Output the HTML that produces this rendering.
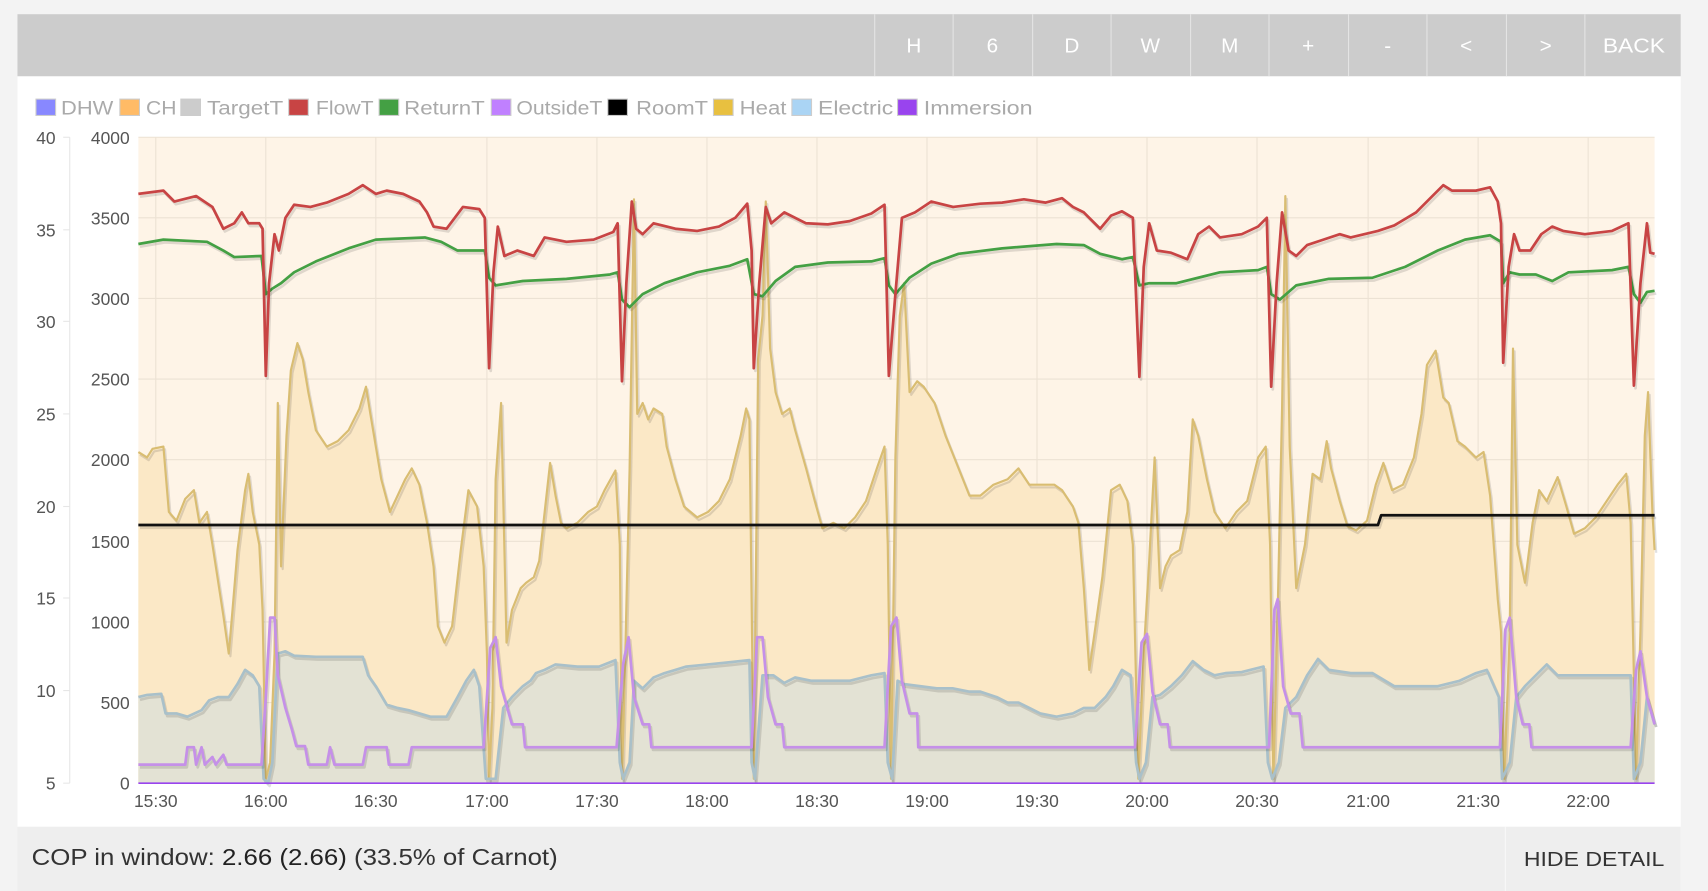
<!DOCTYPE html>
<html><head><meta charset="utf-8"><style>
html,body{margin:0;padding:0;background:#f3f3f3;width:1708px;height:891px;overflow:hidden}
svg{display:block}
text{font-family:"Liberation Sans",sans-serif}
</style></head><body>
<svg width="1708" height="891" viewBox="0 0 1568 818" xmlns="http://www.w3.org/2000/svg">
<rect x="0" y="0" width="1568" height="818" fill="#f3f3f3"/>
<rect x="16" y="13" width="1527" height="805" fill="#fff"/>
<rect x="16" y="13" width="1527" height="57" fill="#cccccc"/>
<g stroke="#e4e4e4" stroke-width="1">
<line x1="803" y1="13" x2="803" y2="70"/><line x1="875" y1="13" x2="875" y2="70"/><line x1="948" y1="13" x2="948" y2="70"/><line x1="1020" y1="13" x2="1020" y2="70"/><line x1="1093" y1="13" x2="1093" y2="70"/><line x1="1165" y1="13" x2="1165" y2="70"/><line x1="1238" y1="13" x2="1238" y2="70"/><line x1="1310" y1="13" x2="1310" y2="70"/><line x1="1383" y1="13" x2="1383" y2="70"/><line x1="1455" y1="13" x2="1455" y2="70"/>
</g>
<g fill="#fff" font-size="19" text-anchor="middle">
<text x="839" y="48">H</text><text x="911" y="48">6</text><text x="984" y="48">D</text><text x="1056" y="48">W</text><text x="1129" y="48">M</text><text x="1201" y="48">+</text><text x="1274" y="48">-</text><text x="1346" y="48">&lt;</text><text x="1419" y="48">&gt;</text><text x="1500" y="48" textLength="57" lengthAdjust="spacingAndGlyphs">BACK</text>
</g>
<!-- legend -->
<g font-size="18" fill="#aaa">
<rect x="33" y="91" width="18" height="15" fill="#8888ff" stroke="#ccc"/><text x="56" y="105" textLength="48" lengthAdjust="spacingAndGlyphs">DHW</text>
<rect x="110" y="91" width="18" height="15" fill="#ffbb66" stroke="#ccc"/><text x="134" y="105" textLength="28" lengthAdjust="spacingAndGlyphs">CH</text>
<rect x="166" y="91" width="18" height="15" fill="#cccccc" stroke="#ccc"/><text x="190" y="105" textLength="70" lengthAdjust="spacingAndGlyphs">TargetT</text>
<rect x="265" y="91" width="18" height="15" fill="#c84444" stroke="#ccc"/><text x="290" y="105" textLength="53" lengthAdjust="spacingAndGlyphs">FlowT</text>
<rect x="348" y="91" width="18" height="15" fill="#44a044" stroke="#ccc"/><text x="371" y="105" textLength="74" lengthAdjust="spacingAndGlyphs">ReturnT</text>
<rect x="451" y="91" width="18" height="15" fill="#c080ff" stroke="#ccc"/><text x="474" y="105" textLength="79" lengthAdjust="spacingAndGlyphs">OutsideT</text>
<rect x="558" y="91" width="18" height="15" fill="#000" stroke="#ccc"/><text x="584" y="105" textLength="66" lengthAdjust="spacingAndGlyphs">RoomT</text>
<rect x="655" y="91" width="18" height="15" fill="#e8c040" stroke="#ccc"/><text x="679" y="105" textLength="43" lengthAdjust="spacingAndGlyphs">Heat</text>
<rect x="727" y="91" width="18" height="15" fill="#aad4f4" stroke="#ccc"/><text x="751" y="105" textLength="69" lengthAdjust="spacingAndGlyphs">Electric</text>
<rect x="824" y="91" width="18" height="15" fill="#9944ee" stroke="#ccc"/><text x="848" y="105" textLength="100" lengthAdjust="spacingAndGlyphs">Immersion</text>
</g>
<!-- plot bg -->
<rect x="127" y="126" width="1392" height="593" fill="#fef4e7"/>
<g stroke="#ece2d4" stroke-width="1">
<line x1="127" y1="200" x2="1519" y2="200"/><line x1="127" y1="274" x2="1519" y2="274"/><line x1="127" y1="348" x2="1519" y2="348"/><line x1="127" y1="422" x2="1519" y2="422"/><line x1="127" y1="497" x2="1519" y2="497"/><line x1="127" y1="571" x2="1519" y2="571"/><line x1="127" y1="645" x2="1519" y2="645"/><line x1="127" y1="126" x2="1519" y2="126"/>
<line x1="143" y1="126" x2="143" y2="719"/><line x1="244" y1="126" x2="244" y2="719"/><line x1="345" y1="126" x2="345" y2="719"/><line x1="447" y1="126" x2="447" y2="719"/><line x1="548" y1="126" x2="548" y2="719"/><line x1="649" y1="126" x2="649" y2="719"/><line x1="750" y1="126" x2="750" y2="719"/><line x1="851" y1="126" x2="851" y2="719"/><line x1="952" y1="126" x2="952" y2="719"/><line x1="1053" y1="126" x2="1053" y2="719"/><line x1="1154" y1="126" x2="1154" y2="719"/><line x1="1256" y1="126" x2="1256" y2="719"/><line x1="1357" y1="126" x2="1357" y2="719"/><line x1="1458" y1="126" x2="1458" y2="719"/>
</g>
<!-- axes -->
<line x1="64" y1="126" x2="64" y2="719" stroke="#e6e6e6"/>
<g stroke="#e6e6e6"><line x1="58" y1="126" x2="64" y2="126"/><line x1="58" y1="211" x2="64" y2="211"/><line x1="58" y1="295" x2="64" y2="295"/><line x1="58" y1="380" x2="64" y2="380"/><line x1="58" y1="465" x2="64" y2="465"/><line x1="58" y1="549" x2="64" y2="549"/><line x1="58" y1="634" x2="64" y2="634"/><line x1="58" y1="719" x2="64" y2="719"/></g>
<g font-size="16" fill="#555" text-anchor="end">
<text x="51" y="132">40</text><text x="51" y="217">35</text><text x="51" y="301">30</text><text x="51" y="386">25</text><text x="51" y="471">20</text><text x="51" y="555">15</text><text x="51" y="640">10</text><text x="51" y="725">5</text>
<text x="119" y="132">4000</text><text x="119" y="206">3500</text><text x="119" y="280">3000</text><text x="119" y="354">2500</text><text x="119" y="428">2000</text><text x="119" y="503">1500</text><text x="119" y="577">1000</text><text x="119" y="651">500</text><text x="119" y="725">0</text>
</g>
<g font-size="16" fill="#555" text-anchor="middle">
<text x="143" y="741">15:30</text><text x="244" y="741">16:00</text><text x="345" y="741">16:30</text><text x="447" y="741">17:00</text><text x="548" y="741">17:30</text><text x="649" y="741">18:00</text><text x="750" y="741">18:30</text><text x="851" y="741">19:00</text><text x="952" y="741">19:30</text><text x="1053" y="741">20:00</text><text x="1154" y="741">20:30</text><text x="1256" y="741">21:00</text><text x="1357" y="741">21:30</text><text x="1458" y="741">22:00</text>
</g>
<g id="series"></g>
<!-- footer -->
<rect x="16" y="759" width="1527" height="59" fill="#eeeeee"/>
<line x1="1382" y1="759" x2="1382" y2="818" stroke="#f8f8f8"/>
<text x="29" y="794" font-size="21" fill="#333" textLength="483" lengthAdjust="spacingAndGlyphs">COP in window: <tspan fill="#222">2.66 (2.66)</tspan> (33.5% of Carnot)</text>
<text x="1399" y="795" font-size="19" fill="#333" textLength="129" lengthAdjust="spacingAndGlyphs">HIDE DETAIL</text>
</svg>
<script>
var heat="127,415 135,420 140,412 150,410 155,470 162,478 170,458 178,450 183,480 190,470 195,500 205,565 210,600 213,565 218,505 225,450 228,435 232,470 238,500 241,560 244,715 248,700 252,600 255,370 258,520 263,400 267,340 273,315 278,330 283,360 290,395 300,410 310,405 320,395 330,375 336,355 340,380 345,410 350,440 358,470 365,455 372,440 378,430 385,445 392,480 398,520 402,575 408,590 415,575 423,505 430,450 438,465 444,520 447,600 449,715 452,650 455,440 460,370 465,590 470,560 478,540 483,535 490,530 495,515 500,470 505,425 510,455 515,480 520,485 530,480 540,470 548,465 555,450 565,432 569,500 571,715 574,600 578,430 582,183 585,380 590,370 595,385 600,375 608,380 612,410 620,440 628,465 640,475 650,470 660,460 670,440 680,400 685,375 688,385 692,715 696,330 700,290 703,185 707,320 712,360 718,380 725,375 730,395 740,430 748,460 755,485 765,480 775,485 785,475 795,460 805,430 812,410 815,500 818,715 822,420 826,290 830,260 835,360 842,350 848,355 858,370 868,400 880,430 890,455 900,455 912,445 925,440 935,430 945,445 958,445 968,445 975,450 985,465 990,480 995,540 1000,615 1005,580 1012,530 1020,450 1028,445 1035,460 1040,500 1045,715 1050,600 1055,515 1060,420 1065,540 1070,520 1075,510 1083,505 1090,470 1095,385 1100,400 1108,440 1115,470 1125,485 1135,470 1145,460 1155,420 1162,410 1166,500 1169,715 1173,560 1177,375 1180,180 1184,410 1190,540 1198,500 1205,435 1212,440 1218,405 1222,430 1230,460 1237,483 1245,487 1255,478 1263,445 1270,425 1278,450 1288,445 1298,420 1305,380 1310,335 1318,322 1325,365 1330,370 1338,405 1345,410 1355,420 1362,415 1368,455 1375,550 1378,580 1381,715 1386,580 1389,320 1393,500 1400,535 1407,480 1413,450 1420,460 1430,438 1438,465 1445,490 1455,485 1465,475 1475,460 1485,445 1493,435 1497,480 1502,715 1506,580 1510,400 1513,360 1517,470 1519,505";
var elec="127,640 135,638 148,637 152,655 162,655 172,658 185,652 192,643 200,640 210,640 218,628 225,615 232,620 238,630 242,715 246,719 250,700 255,600 262,598 270,602 290,603 310,603 333,603 338,620 345,630 355,647 365,650 375,652 385,655 395,658 410,658 420,640 428,625 435,615 440,630 446,715 455,715 462,650 470,640 480,630 487,625 492,618 500,615 510,610 530,612 550,612 565,606 569,700 572,715 578,700 582,625 590,632 600,622 610,618 620,615 630,612 650,610 670,608 688,606 690,700 693,715 700,620 710,620 720,627 730,622 745,625 760,625 780,625 800,620 812,618 815,700 819,715 824,625 830,628 845,630 860,632 875,632 890,635 900,635 915,640 925,645 935,645 945,650 955,655 970,658 985,655 995,650 1005,650 1015,640 1022,630 1030,615 1038,620 1043,700 1046,715 1052,700 1058,640 1065,638 1075,630 1085,620 1095,607 1105,615 1115,620 1125,618 1140,617 1160,612 1164,700 1168,715 1174,700 1180,650 1190,640 1200,620 1210,605 1220,615 1240,618 1260,618 1280,630 1300,630 1320,630 1340,625 1355,618 1365,615 1376,640 1379,715 1386,700 1392,640 1400,630 1410,620 1420,610 1430,620 1445,620 1465,620 1490,620 1497,620 1500,715 1506,700 1512,640 1519,665";
var flow="127,178 150,175 160,185 180,180 195,190 205,210 215,205 222,195 228,205 238,205 241,210 244,345 247,260 252,215 256,230 262,200 270,188 285,190 300,186 320,178 333,170 345,178 355,175 370,178 385,185 392,195 398,208 410,210 425,190 440,192 445,200 449,338 453,250 457,208 463,235 475,230 490,235 500,218 520,222 545,220 563,213 567,205 571,350 575,260 580,185 584,210 590,215 600,205 620,210 640,212 660,208 675,200 686,187 690,230 692,338 697,260 703,190 708,205 720,195 740,205 760,206 780,203 800,196 812,188 816,345 822,270 828,200 840,195 855,185 875,190 900,187 920,186 940,183 960,186 975,182 985,190 995,195 1010,210 1020,198 1030,194 1040,200 1046,346 1050,245 1055,205 1062,230 1075,232 1090,238 1100,215 1110,208 1120,218 1140,215 1155,208 1163,200 1167,355 1172,260 1177,195 1183,230 1190,235 1200,225 1215,220 1230,215 1240,218 1265,212 1280,207 1300,195 1315,180 1325,170 1333,175 1355,175 1368,172 1375,185 1378,205 1380,333 1385,245 1390,215 1395,230 1405,230 1415,215 1425,208 1435,212 1455,215 1480,212 1495,205 1500,354 1506,260 1512,205 1515,232 1519,233";
var ret="127,224 150,220 190,222 205,230 215,236 240,235 244,270 250,265 258,260 270,250 290,240 320,228 345,220 390,218 405,222 420,230 445,230 449,255 455,262 480,258 520,256 560,252 567,250 571,275 578,282 590,270 610,260 640,250 670,244 686,238 692,270 700,272 712,258 730,245 760,241 800,240 812,237 816,262 822,270 835,255 855,242 880,233 920,228 970,224 995,225 1010,233 1030,238 1040,236 1046,262 1055,260 1080,260 1100,255 1120,250 1155,248 1163,245 1167,270 1175,275 1190,262 1220,256 1260,255 1290,245 1320,230 1345,220 1368,216 1378,222 1380,260 1386,250 1395,252 1410,252 1425,258 1440,250 1480,248 1495,245 1500,270 1506,278 1512,268 1519,267";
var out="127,702 170,702 172,686 178,686 180,702 185,686 188,702 195,695 198,702 205,693 208,702 240,702 244,640 248,567 252,567 255,620 262,650 268,670 272,685 280,685 283,702 300,702 303,686 307,702 333,702 336,686 355,686 357,702 375,702 378,686 444,686 450,595 455,585 460,630 470,665 480,665 482,686 566,686 572,610 577,585 582,640 590,665 596,665 598,686 690,686 695,585 700,585 705,640 712,665 718,665 720,686 812,686 818,575 823,567 828,625 835,655 842,655 843,686 1042,686 1048,590 1053,582 1058,635 1065,665 1072,665 1074,686 1165,686 1170,560 1173,550 1178,630 1185,655 1193,655 1196,686 1377,686 1382,578 1386,567 1392,640 1398,665 1404,665 1406,686 1497,686 1502,615 1506,598 1512,640 1519,665";
var room="127,482 1265,482 1268,473 1519,473";
function sh(p){return p.split(" ").map(function(s){var a=s.split(",");return (+a[0]+1.5)+","+(+a[1]+2.5)}).join(" ");}
var g=document.getElementById("series"),h="";
function pl(p,c,w){h+='<polyline points="'+sh(p)+'" fill="none" stroke="rgba(0,0,0,0.12)" stroke-width="'+w+'" stroke-linejoin="round"/>';h+='<polyline points="'+p+'" fill="none" stroke="'+c+'" stroke-width="'+w+'" stroke-linejoin="round"/>';}
h+='<polygon points="127,719 '+heat+' 1519,719" fill="#fbe8c6"/>';
h+='<polygon points="127,719 '+elec+' 1519,719" fill="#e3e2d4"/>';
pl(heat,"#d9bd72",2);
pl(elec,"#a9c0c9",2.5);
pl(out,"#c590e8",2.5);
h+='<line x1="127" y1="719" x2="1519" y2="719" stroke="#9944ee" stroke-width="1.5"/>';
pl(room,"#111",2.5);
pl(ret,"#44a044",2.5);
pl(flow,"#c84444",2.5);
g.innerHTML=h;
</script>
</body></html>
